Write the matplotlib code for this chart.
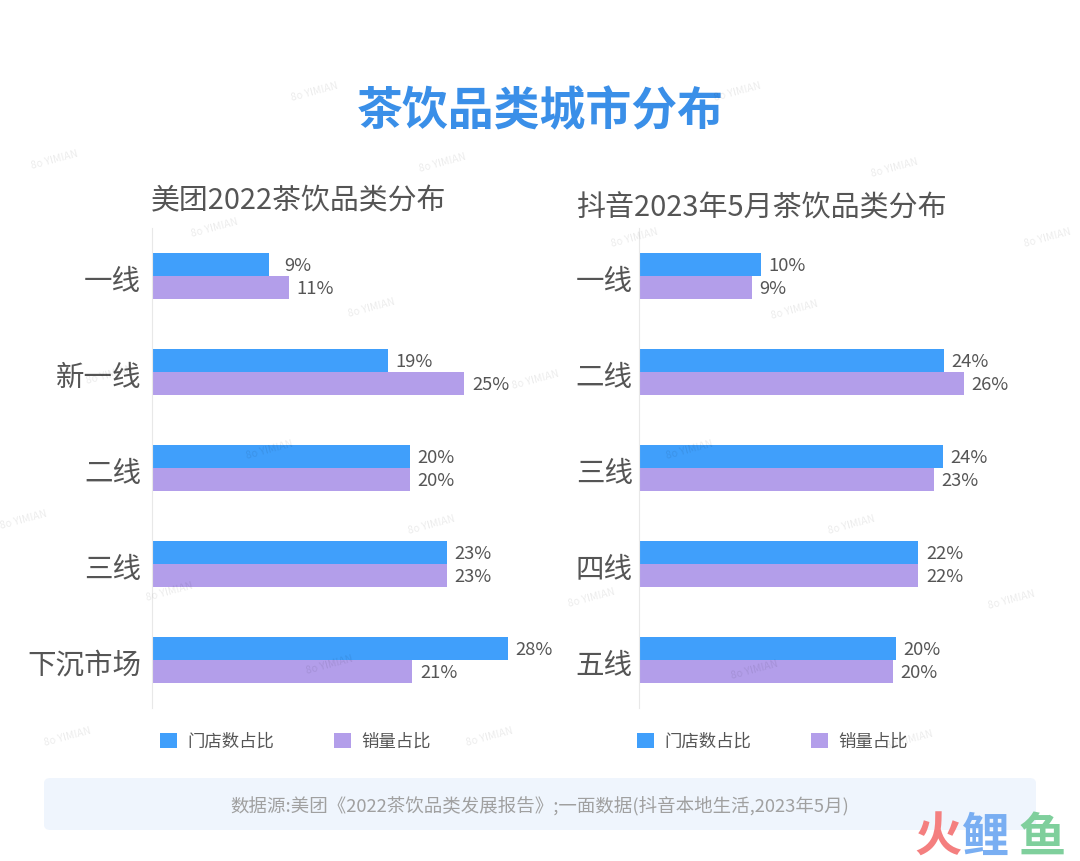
# -*- coding: utf-8 -*-

import matplotlib
matplotlib.use('Agg')
import matplotlib.pyplot as plt
from matplotlib.patches import FancyBboxPatch
from matplotlib.transforms import ScaledTranslation

plt.rcParams['font.family'] = ['Noto Sans CJK SC', 'DejaVu Sans']

W, H = 1080, 861

left_title = '美团2022茶饮品类分布'
left_cats = ['一线', '新一线', '二线', '三线', '下沉市场']
left_store = [9.2, 18.6, 20.3, 23.2, 28.0]
left_sales = [10.8, 24.6, 20.3, 23.2, 20.5]
left_store_labels = ['9%', '19%', '20%', '23%', '28%']
left_sales_labels = ['11%', '25%', '20%', '23%', '21%']

right_title = '抖音2023年5月茶饮品类分布'
right_cats = ['一线', '二线', '三线', '四线', '五线']
right_store = [9.6, 24.0, 23.9, 22.0, 20.2]
right_sales = [8.9, 25.6, 23.2, 22.0, 20.0]
right_store_labels = ['10%', '24%', '24%', '22%', '20%']
right_sales_labels = ['9%', '26%', '23%', '22%', '20%']

series_names = ['门店数占比', '销量占比']
source_text = '数据源:美团《2022茶饮品类发展报告》;一面数据(抖音本地生活,2023年5月)'

BLUE = '#409ffb'
PURPLE = '#b39eea'
TEXT = '#555555'
PX_PER_UNIT = 12.7


def fx(px):
    return px / W


def fy(py):
    return 1 - py / H


def nudge_labels(texts):
    # 数字标签比柱子中心略低
    for t in texts:
        t.xyann = (t.xyann[0], t.xyann[1] - 1.2)


def draw_panel(fig, x0, cats, store, sales, store_labels, sales_labels, legend_x, tick_pad):
    ax = fig.add_axes([fx(x0), fy(708), 400 / W, 480 / H])
    ax.patch.set_alpha(0)
    pos = list(range(len(cats)))
    b1 = ax.barh([p - 0.12 for p in pos], store, height=0.24, color=BLUE, label=series_names[0])
    b2 = ax.barh([p + 0.12 for p in pos], sales, height=0.24, color=PURPLE, label=series_names[1])
    ax.set_xlim(0, 400 / PX_PER_UNIT)
    ax.set_ylim(len(cats) - 0.5, -0.5)
    ax.set_yticks(pos)
    ax.set_yticklabels(cats, fontsize=20.5, color=TEXT)
    ax.set_xticks([])
    ax.tick_params(axis='y', length=0, pad=tick_pad)
    # 类别文字比柱组中心略低
    down = ScaledTranslation(0, -1.5 / 72, fig.dpi_scale_trans)
    for lab in ax.get_yticklabels():
        lab.set_transform(lab.get_transform() + down)
    for s in ['top', 'right', 'bottom']:
        ax.spines[s].set_visible(False)
    ax.spines['left'].set_color('#e8e8e8')
    ax.spines['left'].set_linewidth(0.8)
    t1 = ax.bar_label(b1, labels=store_labels, padding=5.5, fontsize=13.2, color=TEXT, clip_on=False)
    t2 = ax.bar_label(b2, labels=sales_labels, padding=5.5, fontsize=13.2, color=TEXT, clip_on=False)
    nudge_labels(t1)
    nudge_labels(t2)
    ax.legend([b1, b2], series_names, loc='center left',
              bbox_to_anchor=((legend_x - x0) / 400, (708 - 741.5) / 480),
              ncol=2, frameon=False, fontsize=12.5, labelcolor=TEXT,
              handlelength=0.98, handleheight=0.98, handletextpad=0.58,
              columnspacing=3.45, borderpad=0, borderaxespad=0)
    return ax, t1


fig = plt.figure(figsize=(W / 100, H / 100), dpi=100, facecolor='white')

fig.text(fx(540), fy(112), '茶饮品类城市分布', fontsize=33, fontweight='bold',
         color='#3a8fe8', ha='center', va='center')
fig.text(fx(151), fy(201), left_title, fontsize=20.8, color=TEXT, ha='left', va='center')
fig.text(fx(576), fy(208), right_title, fontsize=20.9, color=TEXT, ha='left', va='center')

ax_left, left_texts = draw_panel(fig, 152, left_cats, left_store, left_sales,
                                 left_store_labels, left_sales_labels, 160, 8)
ax_right, right_texts = draw_panel(fig, 639, right_cats, right_store, right_sales,
                                   right_store_labels, right_sales_labels, 637, 4.5)
# 一线的 9% 离柱子更远
left_texts[0].xyann = (left_texts[0].xyann[0] + 5.5, left_texts[0].xyann[1])

# 数据源
box = FancyBboxPatch((fx(44), fy(830)), 992 / W, 52 / H,
                     boxstyle='round,pad=0,rounding_size=0.006',
                     transform=fig.transFigure, facecolor='#eff5fd', edgecolor='none', zorder=0)
fig.patches.append(box)
fig.text(fx(540), fy(807), source_text, fontsize=13.3, color='#a0a0a0', ha='center', va='center')

# 右下角标志
fig.text(fx(938), fy(838), '火', fontsize=34, fontweight='bold', color='#f47f7f', ha='center', va='center')
fig.text(fx(986), fy(838), '鲤', fontsize=34, fontweight='bold', color='#79aef2', ha='center', va='center')
fig.text(fx(1042), fy(838), '鱼', fontsize=34, fontweight='bold', color='#7fcf9c', ha='center', va='center')

# 水印
marks = [(55, 160), (315, 92), (738, 92), (443, 163), (895, 168), (215, 228), (635, 238),
         (1048, 238), (372, 308), (795, 310), (536, 380), (110, 375), (270, 450), (690, 450),
         (24, 520), (432, 525), (852, 525), (170, 592), (592, 598), (1012, 600), (330, 665),
         (755, 670), (68, 737), (490, 737), (910, 740)]
for mx, my in marks:
    fig.text(fx(mx), fy(my), '8o YIMIAN', fontsize=7.5, color='black', alpha=0.08, rotation=15,
             ha='center', va='center', zorder=5)

fig.savefig('out.png', dpi=100)
